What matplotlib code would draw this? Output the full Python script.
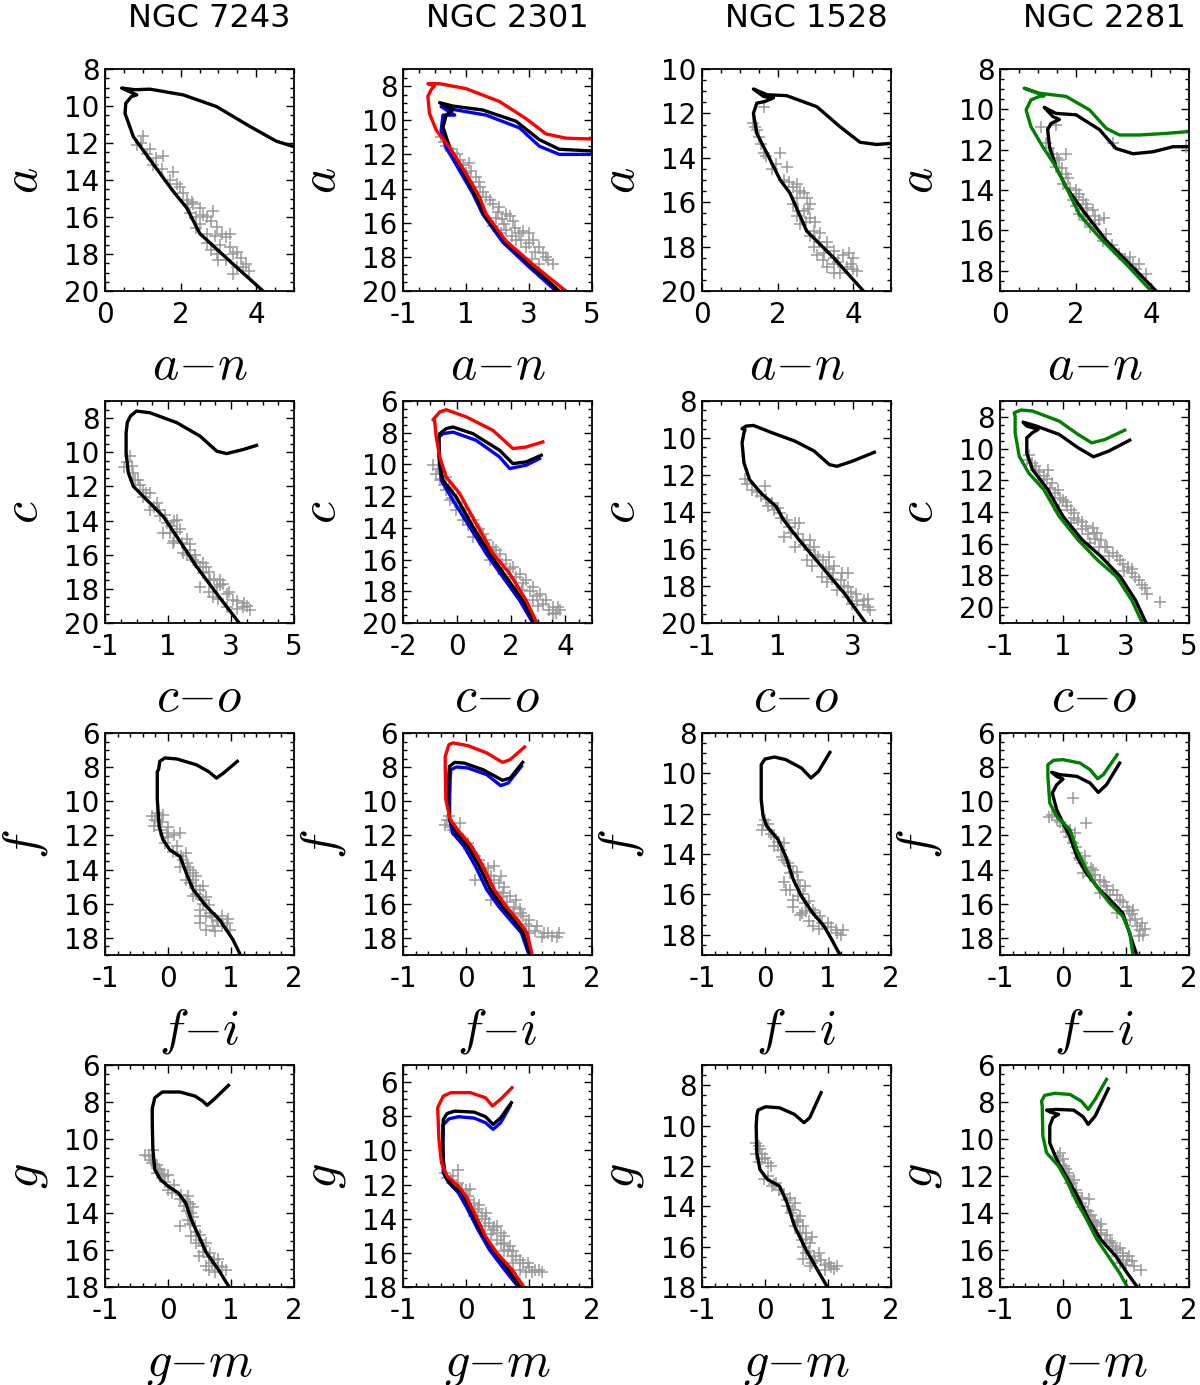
import matplotlib
matplotlib.use('Agg')
import matplotlib.pyplot as plt
from matplotlib.ticker import MultipleLocator

plt.rcParams['font.family'] = 'DejaVu Sans'
plt.rcParams['mathtext.fontset'] = 'cm'
plt.rcParams['axes.unicode_minus'] = False

clusters = ['NGC 7243', 'NGC 2301', 'NGC 1528', 'NGC 2281']
mag_names = ['a', 'c', 'f', 'g']
color_names = ['$a{-}n$', '$c{-}o$', '$f{-}i$', '$g{-}m$']

# ---- NGC 7243 ----
stars_7243_a = [(1.01, 11.6), (0.84, 12.1), (1.1, 12.6), (1.36, 12.8), (1.54, 12.7), (1.28, 13.2),
                (1.8, 13.56), (1.72, 14.0), (1.98, 14.4), (2.16, 15.1), (2.33, 15.3), (2.51, 15.5),
                (2.24, 15.8), (2.69, 16.0), (2.86, 15.7), (2.51, 16.4), (2.95, 16.55), (2.69, 16.9),
                (3.21, 17.1), (3.3, 17.6), (2.95, 18.0), (3.39, 18.0), (3.74, 18.55), (3.39, 19.1),
                (3.65, 18.7), (3.04, 17.5), (2.42, 16.6), (2.07, 14.7),
                (2.3, 15.2), (2.6, 15.9), (2.8, 16.2), (2.4, 16.0), (2.7, 17.4), (2.9, 17.0), (3.1, 16.9),
                (3.5, 17.9), (3.6, 18.2), (3.2, 18.3), (3.0, 18.3), (3.5, 18.7), (3.8, 18.9), (2.8, 17.8),
                (2.2, 15.3), (1.9, 14.2), (1.5, 13.4), (1.2, 12.3), (0.95, 12.0), (3.3, 16.9)]
iso_7243_a = [(4.18, 20), (3.39, 18.55), (2.51, 16.9), (2.16, 15.5), (1.8, 14.6), (1.19, 12.9),
              (0.75, 11.66), (0.53, 10.4), (0.55, 9.85), (0.7, 9.49), (0.84, 9.4), (0.7, 9.27),
              (0.44, 9.03), (0.79, 9.12), (1.19, 9.09), (2.07, 9.4), (2.95, 10.03), (3.83, 11.1),
              (4.53, 11.9), (5.0, 12.2)]
stars_7243_c = [(-0.4, 10.86), (-0.21, 10.24), (-0.1, 11.2), (0.06, 11.6), (0.22, 12.2), (0.43, 12.4),
                (0.43, 13.4), (0.75, 13.76), (0.96, 14.16), (1.06, 14.75), (1.28, 13.96), (1.38, 14.5),
                (1.17, 15.3), (1.59, 15.1), (1.49, 15.9), (1.8, 16.3), (2.02, 16.7), (2.12, 17.1),
                (2.33, 17.5), (2.54, 17.9), (2.86, 18.3), (3.07, 18.67), (3.39, 19.06), (3.6, 19.25),
                (2.02, 17.9), (2.44, 18.47), (2.86, 19.06), (0.64, 12.98), (0.22, 12.6), (0.85, 14.75),
                (1.7, 15.7), (2.12, 16.5), (2.65, 17.5),
                (-0.3, 10.6), (-0.15, 10.8), (-0.05, 11.6), (0.1, 11.9), (0.3, 12.4), (0.55, 13.2),
                (0.7, 13.4), (0.9, 13.7), (1.1, 14.3), (1.2, 14.0), (1.3, 14.7), (1.45, 15.3), (1.7, 15.4),
                (1.85, 16.0), (1.9, 16.4), (2.2, 16.7), (2.3, 17.0), (2.45, 17.4), (2.65, 17.8),
                (2.75, 17.7), (2.95, 18.2), (3.2, 18.7), (3.4, 18.8), (3.5, 19.0), (3.2, 19.2),
                (2.6, 18.6), (2.3, 18.2), (1.2, 15.2), (1.6, 16.0)]
iso_7243_c = [(3.26, 20), (2.54, 18.27), (1.91, 16.7), (1.28, 14.94), (0.85, 13.76), (0.32, 12.78),
              (-0.1, 12.0), (-0.26, 11.2), (-0.33, 10.04), (-0.33, 8.86), (-0.29, 8.24), (-0.19, 7.88),
              (0.0, 7.59), (0.43, 7.69), (1.28, 8.27), (2.02, 9.06), (2.55, 9.94), (2.86, 10.08),
              (3.39, 9.84), (3.81, 9.6)]
stars_7243_f = [(-0.26, 10.88), (-0.18, 10.69), (-0.08, 10.79), (-0.23, 11.47), (-0.13, 11.67),
                (-0.02, 11.86), (0.19, 11.86), (-0.05, 12.45), (0.08, 12.94), (0.24, 13.43), (0.32, 13.82),
                (0.4, 14.2), (0.29, 14.59), (0.45, 14.98), (0.4, 15.57), (0.56, 15.77), (0.51, 16.36),
                (0.66, 16.55), (0.77, 16.94), (0.51, 17.14), (0.72, 17.33), (0.93, 17.14), (0.98, 17.53),
                (0.61, 17.53), (0.29, 13.04), (0.19, 13.82), (0.56, 14.98),
                (-0.2, 11.1), (-0.1, 11.2), (0.0, 11.5), (0.1, 12.0), (0.0, 12.1), (0.15, 12.6),
                (0.2, 13.2), (0.3, 13.6), (0.35, 14.0), (0.45, 14.4), (0.35, 14.8), (0.5, 15.2),
                (0.45, 15.4), (0.6, 15.6), (0.55, 16.0), (0.65, 16.1), (0.7, 16.8), (0.6, 16.7),
                (0.85, 16.7), (0.85, 17.3), (0.75, 17.6), (0.95, 16.9), (0.4, 14.6), (0.5, 16.7),
                (0.8, 17.0)]
iso_7243_f = [(1.15, 19), (1.03, 18.1), (0.82, 16.94), (0.61, 16.16), (0.4, 15.18), (0.29, 14.2),
              (0.19, 13.23), (0.03, 12.84), (-0.08, 12.25), (-0.14, 11.47), (-0.17, 9.9), (-0.17, 8.25),
              (-0.15, 8.15), (-0.13, 7.66), (-0.05, 7.46), (0.14, 7.52), (0.45, 7.86), (0.64, 8.25),
              (0.77, 8.64), (0.88, 8.35), (1.1, 7.66)]
stars_7243_g = [(-0.36, 10.84), (-0.24, 10.57), (-0.27, 11.11), (-0.18, 11.38), (-0.12, 11.65),
                (-0.06, 12.01), (0.0, 11.92), (-0.18, 11.83), (0.07, 12.91), (0.19, 13.27), (0.31, 13.09),
                (0.25, 13.63), (0.37, 13.99), (0.31, 14.36), (0.43, 14.72), (0.37, 15.26), (0.49, 15.44),
                (0.55, 15.8), (0.67, 16.16), (0.73, 16.52), (0.61, 16.88), (0.8, 16.88), (0.92, 17.06),
                (0.49, 16.34), (0.19, 14.72), (0.0, 12.73),
                (-0.3, 10.9), (-0.25, 11.3), (-0.15, 11.6), (-0.1, 11.9), (-0.05, 12.3), (0.1, 12.5),
                (0.2, 13.0), (0.3, 13.4), (0.35, 13.5), (0.4, 13.7), (0.3, 13.9), (0.4, 14.2), (0.35, 14.6),
                (0.45, 15.0), (0.5, 15.2), (0.45, 15.6), (0.6, 15.6), (0.55, 16.1), (0.65, 16.4),
                (0.7, 16.7), (0.65, 17.1), (0.8, 16.5), (0.85, 16.9), (0.75, 17.2)]
iso_7243_g = [(0.97, 18), (0.8, 17.06), (0.61, 16.16), (0.49, 15.26), (0.37, 14.36), (0.28, 13.45),
              (0.16, 12.91), (0.0, 12.55), (-0.12, 12.19), (-0.21, 11.65), (-0.24, 10.57), (-0.25, 9.12),
              (-0.25, 8.36), (-0.21, 7.77), (-0.09, 7.46), (0.19, 7.46), (0.43, 7.68), (0.55, 7.95),
              (0.62, 8.18), (0.73, 7.86), (0.96, 7.1)]

# ---- NGC 2301 ----
stars_2301_a = [(0.21, 11.0), (0.37, 11.5), (0.58, 11.9), (0.8, 12.3), (1.11, 12.5), (1.0, 13.1),
                (1.32, 13.3), (1.22, 13.9), (1.43, 13.9), (1.64, 14.5), (1.85, 14.9), (2.06, 15.1),
                (2.27, 15.5), (1.96, 15.7), (2.48, 15.9), (1.85, 16.2), (2.27, 16.4), (2.69, 16.6),
                (3.01, 16.6), (3.12, 17.0), (3.33, 17.4), (2.9, 17.4), (3.54, 18.0), (3.75, 18.4),
                (3.33, 18.4), (2.59, 17.0),
                (0.3, 11.3), (0.5, 11.7), (0.7, 12.0), (0.9, 12.6), (1.15, 13.0), (1.4, 13.6),
                (1.55, 14.2), (1.75, 14.7), (2.0, 15.4), (2.15, 15.8), (2.4, 15.6), (2.2, 16.1),
                (2.55, 16.3), (2.8, 16.5), (2.45, 16.8), (2.75, 17.0), (3.0, 17.2), (3.2, 17.7),
                (3.45, 17.8), (3.6, 18.2), (3.1, 18.1), (2.1, 16.6)]
iso_2301_a = [(3.96, 20), (3.12, 18.6), (2.27, 17.15), (1.64, 15.7), (1.32, 14.5), (0.9, 12.96),
              (0.48, 11.6), (0.27, 10.4), (0.37, 9.7), (0.58, 9.4), (0.16, 8.97), (0.58, 9.17),
              (1.53, 9.4), (2.59, 10.06), (3.33, 11.14), (3.96, 11.7), (5.0, 11.8)]
iso_2301_a_red = [(4.17, 20), (3.12, 18.44), (2.27, 17.07), (1.64, 15.5), (1.43, 14.5), (1.0, 13.1),
                  (0.48, 11.6), (0.06, 10.6), (-0.16, 9.6), (-0.21, 8.6), (-0.1, 8.2), (0.0, 8.0),
                  (-0.21, 7.86), (0.16, 7.86), (1.0, 8.15), (2.06, 8.9), (2.9, 9.9), (3.54, 10.8),
                  (4.17, 11.05), (5.0, 11.1)]
iso_2301_a_blue = [(3.86, 20), (3.01, 18.6), (2.17, 17.15), (1.53, 15.5), (1.22, 14.3), (0.8, 12.96),
                   (0.37, 11.6), (0.21, 10.6), (0.27, 9.7), (0.64, 9.7), (0.21, 9.2), (0.69, 9.4),
                   (1.64, 9.7), (2.7, 10.45), (3.33, 11.52), (3.96, 12.0), (5.0, 12.0)]
stars_2301_c = [(-0.89, 10.05), (-0.77, 10.58), (-0.64, 11.0), (-0.4, 10.79), (-0.4, 11.63),
                (-0.15, 11.84), (0.1, 12.68), (0.34, 13.1), (0.59, 13.52), (0.71, 13.94), (0.96, 14.36),
                (1.08, 14.78), (1.33, 15.2), (1.58, 15.62), (1.82, 16.04), (2.07, 16.46), (2.32, 16.88),
                (2.56, 17.3), (2.81, 17.73), (3.06, 18.15), (3.3, 18.57), (3.55, 18.99), (3.8, 19.2),
                (3.55, 19.41), (2.19, 17.73), (1.7, 16.88), (1.21, 16.04), (0.59, 14.57), (0.22, 13.52),
                (-0.03, 12.89), (-0.27, 12.26), (2.81, 18.57),
                (-0.7, 10.3), (-0.55, 10.9), (-0.5, 11.3), (-0.3, 11.4), (-0.2, 12.1), (0.0, 12.4),
                (0.2, 12.8), (0.45, 13.3), (0.4, 13.8), (0.8, 14.1), (0.85, 14.6), (1.0, 15.0),
                (1.2, 15.3), (1.45, 15.4), (1.4, 15.8), (1.65, 16.3), (1.95, 16.6), (1.95, 17.1),
                (2.2, 17.1), (2.45, 17.5), (2.4, 17.9), (2.7, 18.0), (2.95, 18.3), (3.2, 18.8),
                (3.0, 18.9), (3.4, 19.2), (3.65, 19.4), (3.75, 19.0)]
iso_2301_c = [(2.87, 20), (2.44, 18.57), (1.82, 17.1), (1.21, 15.62), (0.59, 13.94), (-0.03, 12.05),
              (-0.52, 11.0), (-0.64, 9.95), (-0.67, 8.48), (-0.64, 8.06), (-0.4, 7.74), (-0.15, 7.64),
              (0.59, 8.06), (1.58, 9.11), (2.07, 9.95), (2.56, 9.84), (3.12, 9.42)]
iso_2301_c_red = [(2.96, 20), (2.56, 18.57), (1.95, 16.88), (1.33, 15.62), (0.71, 13.73), (0.1, 11.84),
                  (-0.4, 10.79), (-0.64, 9.53), (-0.77, 8.27), (-0.83, 7.22), (-0.89, 7.18), (-0.64, 6.69),
                  (-0.4, 6.55), (0.34, 7.0), (1.33, 7.85), (2.07, 9.0), (2.56, 8.9), (3.18, 8.58)]
iso_2301_c_blue = [(2.81, 20), (2.32, 18.57), (1.7, 17.1), (1.08, 15.62), (0.47, 13.94), (-0.15, 12.26),
                   (-0.58, 11.0), (-0.67, 9.53), (-0.67, 8.48), (-0.74, 8.37), (-0.52, 8.06), (-0.15, 7.96),
                   (0.71, 8.48), (1.58, 9.53), (1.95, 10.26), (2.56, 10.05), (3.06, 9.63)]
stars_2301_f = [(-0.33, 11.37), (-0.27, 10.88), (-0.21, 11.67), (-0.09, 11.28), (-0.09, 12.06),
                (0.03, 12.45), (0.09, 13.04), (0.21, 13.43), (0.27, 14.02), (0.39, 14.4), (0.52, 14.79),
                (0.58, 15.38), (0.7, 15.57), (0.76, 16.16), (0.88, 16.55), (1.0, 16.94), (1.12, 17.33),
                (1.24, 17.71), (1.36, 17.91), (1.48, 17.71), (1.0, 17.71), (0.39, 15.77), (0.15, 14.59),
                (0.45, 13.81),
                (-0.3, 11.1), (-0.25, 11.5), (-0.15, 11.9), (-0.05, 12.2), (0.05, 12.8), (0.15, 13.2),
                (0.2, 13.7), (0.35, 13.9), (0.3, 14.3), (0.45, 14.6), (0.55, 14.4), (0.6, 15.0),
                (0.45, 15.3), (0.65, 15.9), (0.8, 15.8), (0.85, 16.3), (0.9, 16.7), (0.75, 16.6),
                (0.95, 17.2), (1.1, 17.6), (1.2, 17.95), (1.3, 17.7), (1.45, 17.95), (1.0, 17.3),
                (0.55, 15.6)]
iso_2301_f = [(1.02, 19), (0.91, 17.71), (0.76, 16.94), (0.58, 16.16), (0.39, 15.18), (0.21, 13.81),
              (0.03, 12.64), (-0.15, 11.86), (-0.26, 11.08), (-0.28, 9.9), (-0.27, 8.33), (-0.26, 7.95),
              (-0.18, 7.72), (-0.03, 7.76), (0.27, 8.15), (0.58, 8.77), (0.7, 8.64), (0.9, 7.72)]
iso_2301_f_red = [(1.05, 19), (0.97, 17.71), (0.82, 16.94), (0.64, 16.16), (0.45, 15.18), (0.27, 13.81),
                  (0.09, 12.64), (-0.09, 11.86), (-0.25, 11.08), (-0.32, 9.9), (-0.33, 7.95), (-0.33, 7.37),
                  (-0.27, 6.68), (-0.21, 6.58), (0.03, 6.74), (0.33, 7.17), (0.58, 7.72), (0.7, 7.56),
                  (0.93, 6.82)]
iso_2301_f_blue = [(1.0, 19), (0.88, 17.71), (0.7, 16.94), (0.52, 16.16), (0.33, 15.18), (0.15, 13.81),
                   (-0.03, 12.64), (-0.21, 11.86), (-0.26, 11.08), (-0.26, 9.9), (-0.25, 8.54), (-0.24, 8.15),
                   (-0.15, 7.99), (0.03, 8.05), (0.33, 8.44), (0.55, 9.08), (0.67, 8.93), (0.88, 7.95)]
stars_2301_g = [(-0.33, 11.32), (-0.24, 11.71), (-0.12, 11.12), (-0.12, 11.9), (-0.06, 12.29),
                (0.03, 12.68), (0.13, 13.07), (0.19, 13.46), (0.25, 13.86), (0.37, 14.25), (0.43, 14.64),
                (0.55, 14.83), (0.49, 15.22), (0.61, 15.42), (0.67, 15.81), (0.73, 16.2), (0.86, 16.4),
                (0.98, 16.59), (1.1, 16.98), (1.16, 16.98), (0.86, 16.98), (0.13, 13.86), (0.31, 13.66),
                (0.49, 14.44), (0.07, 12.29),
                (-0.3, 11.6), (-0.2, 11.5), (-0.15, 12.0), (0.0, 12.3), (0.05, 12.9), (0.2, 13.2),
                (0.15, 13.6), (0.3, 14.0), (0.3, 14.4), (0.45, 14.5), (0.4, 14.9), (0.6, 15.0),
                (0.55, 15.5), (0.7, 15.6), (0.75, 15.9), (0.6, 15.9), (0.8, 16.2), (0.9, 16.6),
                (1.0, 16.8), (1.05, 17.1), (0.95, 17.1), (1.2, 17.1), (0.75, 16.6)]
iso_2301_g = [(0.86, 18), (0.67, 16.98), (0.43, 15.81), (0.25, 14.83), (0.07, 13.46), (-0.06, 12.49),
              (-0.21, 12.1), (-0.33, 11.51), (-0.36, 10.54), (-0.37, 9.17), (-0.36, 8.19), (-0.3, 7.84),
              (-0.18, 7.7), (0.13, 7.76), (0.31, 8.03), (0.43, 8.48), (0.55, 8.09), (0.72, 7.21)]
iso_2301_g_red = [(0.92, 18), (0.73, 16.98), (0.49, 16.0), (0.31, 15.03), (0.16, 13.86), (0.0, 12.68),
                  (-0.12, 12.1), (-0.3, 11.51), (-0.39, 10.73), (-0.43, 9.36), (-0.44, 8.38), (-0.45, 7.5),
                  (-0.36, 6.82), (-0.24, 6.62), (0.07, 6.62), (0.31, 6.92), (0.42, 7.4), (0.55, 7.0),
                  (0.73, 6.33)]
iso_2301_g_blue = [(0.83, 18), (0.61, 16.98), (0.37, 15.81), (0.19, 14.64), (0.0, 13.27), (-0.12, 12.49),
                   (-0.27, 11.9), (-0.36, 11.32), (-0.37, 9.95), (-0.36, 8.77), (-0.37, 8.54), (-0.27, 8.15),
                   (-0.12, 8.03), (0.13, 8.11), (0.31, 8.38), (0.43, 8.77), (0.55, 8.38), (0.7, 7.4)]

# ---- NGC 1528 ----
stars_1528_a = [(1.36, 12.45), (1.45, 12.75), (1.5, 13.05), (1.63, 13.8), (1.85, 14.5), (2.07, 13.8),
                (2.24, 14.4), (2.16, 15.0), (2.42, 15.3), (2.6, 15.5), (2.77, 15.8), (2.42, 16.1),
                (2.69, 16.4), (2.86, 16.7), (2.6, 17.0), (2.95, 17.3), (3.13, 17.4), (3.3, 17.8),
                (3.04, 18.4), (3.48, 18.2), (3.74, 18.4), (4.0, 18.5), (3.48, 18.8), (3.83, 18.9),
                (4.1, 19.1), (3.65, 19.2), (1.63, 11.7), (2.86, 16.1), (2.5, 16.6), (3.22, 18.3),
                (1.4, 12.6), (1.55, 13.4), (1.7, 13.9), (1.95, 14.3), (2.3, 15.1), (2.5, 15.2),
                (2.7, 15.6), (2.5, 15.8), (2.8, 16.3), (2.55, 16.4), (2.75, 16.9), (3.0, 16.9),
                (2.85, 17.5), (3.1, 17.8), (3.3, 18.0), (2.95, 18.0), (3.5, 18.5), (3.9, 18.3),
                (3.3, 18.9), (3.6, 18.7), (3.95, 18.8), (3.5, 19.2), (4.0, 19.0), (3.2, 18.6)]
iso_1528_a = [(4.27, 20), (3.48, 18.5), (2.77, 17.3), (2.33, 15.6), (2.07, 15.0), (1.72, 13.8),
              (1.45, 12.9), (1.36, 12.0), (1.45, 11.54), (1.67, 11.46), (1.89, 11.3), (1.63, 11.24),
              (1.36, 10.9), (1.72, 11.16), (2.24, 11.2), (3.04, 11.7), (3.65, 12.6), (4.18, 13.3),
              (4.62, 13.4), (5.0, 13.35)]
stars_1528_c = [(0.14, 12.22), (0.31, 12.8), (0.66, 12.62), (0.56, 13.16), (0.86, 13.52), (1.06, 14.06),
                (1.26, 14.43), (1.57, 14.6), (1.36, 15.15), (1.67, 15.51), (1.87, 16.05), (2.07, 16.42),
                (2.27, 16.96), (2.47, 17.32), (2.67, 17.68), (2.87, 18.05), (3.07, 18.41), (3.28, 18.77),
                (3.38, 19.13), (2.97, 18.95), (2.57, 18.23), (2.17, 17.5), (1.77, 16.6), (1.46, 15.87),
                (1.16, 15.33), (1.87, 15.51), (2.37, 16.42), (2.87, 17.32), (0.91, 13.88),
                (0.2, 12.5), (0.45, 12.9), (0.7, 13.3), (0.75, 13.7), (1.0, 13.8), (1.1, 14.3),
                (1.3, 14.8), (1.45, 14.6), (1.55, 15.2), (1.7, 15.8), (1.95, 15.9), (2.0, 16.3),
                (2.2, 16.6), (2.35, 17.1), (2.5, 16.9), (2.45, 17.6), (2.7, 17.3), (2.75, 18.0),
                (2.95, 18.3), (3.1, 18.8), (3.25, 19.0), (3.4, 18.7), (3.45, 19.3), (2.85, 18.6),
                (2.3, 17.8), (1.9, 16.9)]
iso_1528_c = [(3.33, 20), (2.77, 18.41), (2.17, 16.96), (1.57, 15.51), (1.16, 14.43), (0.96, 13.7),
              (0.56, 12.98), (0.26, 12.25), (0.11, 11.35), (0.06, 10.26), (0.11, 9.72), (0.14, 9.54),
              (0.06, 9.5), (0.16, 9.36), (0.36, 9.32), (0.86, 9.72), (1.46, 10.17), (1.97, 10.71),
              (2.37, 11.44), (2.57, 11.53), (2.97, 11.26), (3.56, 10.77)]
stars_1528_f = [(-0.03, 12.55), (0.0, 12.3), (0.06, 12.8), (0.15, 13.13), (0.21, 13.62), (0.27, 14.12),
                (0.36, 14.45), (0.39, 14.94), (0.52, 15.27), (0.33, 15.77), (0.52, 16.1), (0.64, 16.43),
                (0.76, 16.76), (0.88, 17.09), (1.0, 17.42), (1.12, 17.75), (1.24, 17.75), (0.76, 17.58),
                (0.58, 16.93), (0.45, 16.27), (0.15, 13.62), (0.64, 15.6), (0.3, 13.46),
                (-0.05, 12.8), (0.05, 12.5), (0.1, 13.0), (0.2, 13.4), (0.25, 13.8), (0.3, 14.3),
                (0.4, 14.6), (0.45, 14.9), (0.3, 15.4), (0.4, 15.8), (0.55, 15.6), (0.6, 16.0),
                (0.45, 16.6), (0.7, 16.3), (0.65, 16.8), (0.8, 16.9), (0.9, 17.4), (0.85, 17.7),
                (1.05, 17.6), (1.15, 17.9), (0.7, 17.3), (0.55, 17.0), (1.2, 18.0), (0.5, 14.9)]
iso_1528_f = [(1.19, 19), (1.06, 18.24), (0.94, 17.58), (0.76, 16.93), (0.58, 16.1), (0.45, 15.27),
              (0.33, 14.12), (0.21, 13.29), (0.03, 12.63), (-0.03, 12.13), (-0.06, 11.31), (-0.06, 9.98),
              (-0.06, 9.57), (0.0, 9.29), (0.15, 9.19), (0.33, 9.32), (0.58, 9.74), (0.73, 10.23),
              (0.85, 9.9), (1.03, 8.96)]
stars_1528_g = [(-0.14, 10.85), (-0.08, 11.18), (-0.14, 11.43), (-0.05, 11.68), (0.04, 11.85),
                (-0.02, 12.67), (0.11, 13.0), (0.23, 13.17), (0.35, 13.67), (0.47, 13.83), (0.41, 14.33),
                (0.53, 14.66), (0.47, 14.99), (0.65, 15.32), (0.59, 15.65), (0.71, 15.81), (0.65, 16.31),
                (0.77, 16.48), (0.89, 16.64), (1.02, 16.81), (1.14, 16.98), (0.95, 17.14), (0.71, 16.98),
                (0.17, 12.83),
                (-0.1, 11.0), (-0.05, 11.4), (0.0, 11.6), (-0.1, 11.8), (0.1, 12.0), (0.05, 12.5),
                (0.15, 12.9), (0.3, 13.4), (0.4, 13.6), (0.35, 14.0), (0.45, 14.2), (0.55, 14.5),
                (0.5, 14.8), (0.6, 15.0), (0.55, 15.3), (0.65, 15.6), (0.75, 15.5), (0.6, 16.0),
                (0.7, 16.2), (0.85, 16.3), (0.8, 16.7), (0.95, 16.9), (1.05, 17.0), (0.75, 16.8),
                (0.6, 16.6), (1.1, 17.1)]
iso_1528_g = [(0.99, 18), (0.83, 17.14), (0.65, 16.15), (0.47, 14.99), (0.35, 13.83), (0.23, 13.0),
              (0.04, 12.67), (-0.08, 12.18), (-0.13, 11.35), (-0.14, 10.03), (-0.13, 9.5), (-0.11, 9.23),
              (0.01, 9.07), (0.23, 9.12), (0.47, 9.45), (0.62, 9.86), (0.71, 9.61), (0.89, 8.37)]

# ---- NGC 2281 ----
stars_2281_a = [(1.09, 10.86), (1.48, 10.77), (2.99, 11.69), (4.93, 11.85), (1.22, 11.69), (1.4, 12.19),
                (1.57, 12.52), (1.48, 12.85), (1.75, 13.18), (1.66, 13.68), (2.1, 14.18), (1.92, 14.5),
                (2.28, 14.68), (2.1, 15.18), (2.46, 15.0), (2.63, 15.5), (2.37, 15.84), (2.72, 16.5),
                (3.16, 17.17), (3.52, 17.67), (3.69, 17.67), (3.87, 18.17), (1.75, 12.19), (2.01, 14.35),
                (2.24, 15.5),
                (1.3, 11.9), (1.5, 12.4), (1.65, 12.9), (1.8, 13.4), (1.85, 13.9), (2.0, 14.0),
                (2.2, 14.5), (2.3, 14.9), (2.0, 14.8), (2.5, 15.3), (2.75, 15.4), (2.5, 15.7),
                (2.8, 16.2), (2.95, 16.7), (3.3, 17.4), (3.45, 17.3), (3.6, 17.9), (2.2, 15.3)]
iso_2281_a = [(4.13, 19), (3.52, 17.83), (2.81, 16.5), (2.19, 15.0), (1.75, 13.85), (1.48, 12.85),
              (1.31, 11.85), (1.26, 11.0), (1.35, 10.7), (1.57, 10.5), (1.4, 10.36), (1.17, 9.9),
              (1.48, 10.2), (2.01, 10.27), (2.63, 11.0), (3.07, 11.94), (3.52, 12.2), (4.05, 12.1),
              (4.58, 11.85), (5.0, 11.85)]
iso_2281_a_green = [(4.0, 19), (3.34, 17.67), (2.63, 16.34), (2.1, 15.2), (1.75, 13.85), (1.48, 12.85),
                    (1.13, 11.85), (0.82, 10.86), (0.69, 10.03), (0.82, 9.53), (1.04, 9.36), (1.17, 9.33),
                    (0.64, 8.95), (1.04, 9.2), (1.75, 9.36), (2.37, 10.03), (2.81, 10.94), (3.16, 11.27),
                    (3.69, 11.27), (4.4, 11.19), (5.0, 11.1)]
stars_2281_c = [(-0.09, 10.38), (0.03, 10.9), (0.15, 11.32), (0.39, 11.75), (0.64, 12.17), (0.76, 12.8),
                (1.0, 13.22), (1.12, 13.65), (1.36, 14.07), (1.48, 14.49), (1.73, 14.91), (1.97, 15.34),
                (2.21, 15.76), (2.33, 16.18), (2.58, 16.6), (2.82, 17.03), (3.06, 17.45), (3.18, 17.87),
                (3.42, 18.29), (3.67, 19.14), (4.09, 19.66), (0.88, 13.86), (1.24, 14.7), (1.85, 15.97),
                (2.09, 15.34), (0.27, 11.96), (0.52, 11.32),
                (-0.15, 10.7), (0.1, 11.1), (0.25, 11.5), (0.5, 11.9), (0.6, 12.5), (0.85, 12.6),
                (0.9, 13.1), (1.1, 13.4), (1.25, 13.9), (1.35, 14.4), (1.6, 14.6), (1.6, 15.1),
                (1.8, 15.4), (2.0, 15.7), (2.15, 16.2), (2.4, 16.2), (2.45, 16.8), (2.7, 16.8),
                (2.9, 17.3), (2.95, 17.7), (3.2, 17.6), (3.3, 18.1), (3.5, 18.6), (3.6, 18.8),
                (1.95, 15.0)]
iso_2281_c = [(3.64, 21), (3.3, 19.56), (2.82, 18.08), (2.21, 16.81), (1.61, 15.76), (1.0, 14.28),
              (0.52, 12.59), (0.03, 11.32), (-0.15, 10.27), (-0.15, 9.32), (0.03, 9.0), (0.21, 8.79),
              (-0.15, 8.58), (-0.27, 8.33), (0.15, 8.58), (0.88, 9.11), (1.48, 9.95), (1.97, 10.52),
              (2.45, 10.16), (3.12, 9.47)]
iso_2281_c_green = [(3.52, 21), (3.18, 19.56), (2.7, 18.08), (2.09, 17.02), (1.48, 15.76), (0.88, 14.28),
                    (0.39, 12.59), (-0.09, 11.54), (-0.39, 10.48), (-0.52, 9.0), (-0.52, 7.95),
                    (-0.55, 7.74), (-0.33, 7.57), (0.03, 7.63), (0.88, 8.27), (1.48, 9.11), (1.91, 9.64),
                    (2.33, 9.43), (2.96, 8.84)]
stars_2281_f = [(0.16, 9.81), (0.37, 11.28), (-0.18, 10.79), (-0.1, 11.08), (0.0, 11.47), (0.11, 11.66),
                (0.19, 11.86), (0.16, 12.45), (0.22, 13.04), (0.27, 13.43), (0.37, 13.82), (0.48, 14.02),
                (0.43, 14.4), (0.59, 14.59), (0.69, 14.98), (0.8, 15.18), (0.59, 15.38), (0.9, 15.77),
                (1.01, 16.16), (1.11, 16.35), (1.06, 16.94), (1.17, 17.33), (1.27, 17.81), (1.22, 17.53),
                (0.32, 14.2), (0.85, 16.55),
                (-0.22, 10.9), (-0.05, 11.2), (0.05, 11.8), (0.1, 12.1), (0.2, 12.7), (0.25, 13.3),
                (0.3, 13.6), (0.35, 13.2), (0.45, 13.9), (0.5, 14.3), (0.65, 14.7), (0.7, 15.2),
                (0.75, 15.5), (0.85, 15.5), (0.95, 15.9), (1.1, 16.6), (1.15, 16.9), (1.05, 16.4),
                (1.25, 17.1), (1.3, 17.5), (1.2, 17.9), (0.5, 14.6)]
iso_2281_f = [(1.17, 19), (1.09, 18.1), (0.95, 16.55), (0.8, 15.96), (0.58, 15.18), (0.37, 14.2),
              (0.22, 13.23), (0.11, 12.06), (0.0, 11.28), (-0.1, 10.49), (-0.17, 9.52), (-0.1, 9.03),
              (0.0, 8.7), (-0.1, 8.54), (-0.18, 8.3), (-0.05, 8.44), (0.22, 8.54), (0.43, 8.93),
              (0.56, 9.48), (0.69, 9.03), (0.9, 7.76)]
iso_2281_f_green = [(1.11, 19), (1.06, 17.71), (0.95, 16.74), (0.74, 15.96), (0.53, 14.98), (0.37, 14.0),
                    (0.22, 12.83), (0.11, 11.66), (-0.1, 10.88), (-0.21, 10.1), (-0.24, 8.54),
                    (-0.24, 7.86), (-0.15, 7.6), (0.0, 7.56), (0.27, 7.76), (0.43, 8.15), (0.55, 8.68),
                    (0.64, 8.44), (0.86, 7.27)]
stars_2281_g = [(-0.04, 10.75), (-0.07, 11.2), (0.02, 11.47), (0.08, 11.83), (0.11, 12.37), (0.2, 12.73),
                (0.23, 13.09), (0.29, 13.45), (0.35, 13.82), (0.41, 14.18), (0.48, 14.36), (0.54, 14.72),
                (0.6, 15.08), (0.66, 15.44), (0.78, 15.62), (0.84, 15.98), (0.96, 16.16), (1.02, 16.52),
                (0.9, 16.7), (1.12, 16.88), (1.24, 17.06), (0.41, 13.27), (0.17, 12.19),
                (-0.08, 10.9), (0.0, 11.1), (0.05, 11.6), (0.1, 12.0), (0.15, 12.4), (0.2, 12.9),
                (0.3, 13.2), (0.3, 13.7), (0.4, 13.9), (0.45, 14.1), (0.5, 14.5), (0.6, 14.6),
                (0.6, 14.9), (0.7, 15.2), (0.75, 15.5), (0.8, 15.8), (0.9, 15.9), (0.95, 16.3),
                (1.05, 16.3), (1.1, 16.6), (0.85, 16.3), (1.0, 16.8)]
iso_2281_g = [(1.18, 18), (1.02, 17.25), (0.84, 16.34), (0.6, 15.44), (0.41, 14.36), (0.23, 13.09),
              (0.05, 12.01), (-0.1, 11.11), (-0.21, 10.21), (-0.21, 9.3), (-0.16, 8.85), (-0.07, 8.67),
              (-0.2, 8.55), (-0.26, 8.44), (-0.1, 8.4), (0.17, 8.44), (0.32, 8.8), (0.4, 9.21),
              (0.51, 8.76), (0.72, 7.28)]
iso_2281_g_green = [(1.02, 18), (0.9, 17.25), (0.72, 16.34), (0.54, 15.44), (0.35, 14.18), (0.2, 13.27),
                    (0.05, 12.19), (-0.07, 11.47), (-0.26, 10.75), (-0.32, 9.84), (-0.33, 8.22),
                    (-0.34, 7.95), (-0.29, 7.64), (-0.13, 7.53), (0.11, 7.59), (0.29, 7.95), (0.4, 8.4),
                    (0.51, 7.86), (0.69, 6.78)]

# axis ranges per row (cols: 7243, 2301, 1528, 2281)
xlims = [[(0, 5), (-1, 5), (0, 5), (0, 5)],
         [(-1, 5), (-2, 5), (-1, 4), (-1, 5)],
         [(-1, 2)] * 4,
         [(-1, 2)] * 4]
xticks = [[[0, 2, 4], [-1, 1, 3, 5], [0, 2, 4], [0, 2, 4]],
          [[-1, 1, 3, 5], [-2, 0, 2, 4], [-1, 1, 3], [-1, 1, 3, 5]],
          [[-1, 0, 1, 2]] * 4,
          [[-1, 0, 1, 2]] * 4]
ylims = [[(20, 8), (20, 7), (20, 10), (19, 8)],
         [(20, 7), (20, 6), (20, 8), (21, 7)],
         [(19, 6), (19, 6), (19, 8), (19, 6)],
         [(18, 6), (18, 5), (18, 7), (18, 6)]]
yticks = [[range(8, 21, 2), range(8, 21, 2), range(10, 21, 2), range(8, 19, 2)],
          [range(8, 21, 2), range(6, 21, 2), range(8, 21, 2), range(8, 21, 2)],
          [range(6, 19, 2), range(6, 19, 2), range(8, 19, 2), range(6, 19, 2)],
          [range(6, 19, 2), range(6, 19, 2), range(8, 19, 2), range(6, 19, 2)]]

stars = [[stars_7243_a, stars_2301_a, stars_1528_a, stars_2281_a],
         [stars_7243_c, stars_2301_c, stars_1528_c, stars_2281_c],
         [stars_7243_f, stars_2301_f, stars_1528_f, stars_2281_f],
         [stars_7243_g, stars_2301_g, stars_1528_g, stars_2281_g]]

# isochrones per panel, in drawing order
isos = [[[(iso_7243_a, 'k')],
         [(iso_2301_a_blue, 'b'), (iso_2301_a, 'k'), (iso_2301_a_red, 'r')],
         [(iso_1528_a, 'k')],
         [(iso_2281_a, 'k'), (iso_2281_a_green, 'g')]],
        [[(iso_7243_c, 'k')],
         [(iso_2301_c_blue, 'b'), (iso_2301_c, 'k'), (iso_2301_c_red, 'r')],
         [(iso_1528_c, 'k')],
         [(iso_2281_c, 'k'), (iso_2281_c_green, 'g')]],
        [[(iso_7243_f, 'k')],
         [(iso_2301_f_blue, 'b'), (iso_2301_f, 'k'), (iso_2301_f_red, 'r')],
         [(iso_1528_f, 'k')],
         [(iso_2281_f, 'k'), (iso_2281_f_green, 'g')]],
        [[(iso_7243_g, 'k')],
         [(iso_2301_g_blue, 'b'), (iso_2301_g, 'k'), (iso_2301_g_red, 'r')],
         [(iso_1528_g, 'k')],
         [(iso_2281_g, 'k'), (iso_2281_g_green, 'g')]]]

line_colors = {'k': 'black', 'b': '#0000ff', 'r': '#ff0000', 'g': '#007f00'}

W, H = 1200, 1385
fig = plt.figure(figsize=(W / 100, H / 100), dpi=100)

lefts = [105, 403, 702, 1000]
tops = [69, 401, 733, 1065]
aw, ah = 189, 222

for col, name in enumerate(clusters):
    fig.text((lefts[col] + aw / 2 + 10) / W, 1 - 27 / H, name, ha='center', va='baseline', fontsize=23)

for row in range(4):
    for col in range(4):
        ax = fig.add_axes([lefts[col] / W, 1 - (tops[row] + ah) / H, aw / W, ah / H])

        pts = stars[row][col]
        ax.plot([p[0] for p in pts], [p[1] for p in pts], '+', color='#999999', ms=8, mew=1.1)

        for iso, c in isos[row][col]:
            ax.plot([p[0] for p in iso], [p[1] for p in iso], '-', color=line_colors[c], lw=2.4,
                    solid_joinstyle='round')

        ax.set_xlim(*xlims[row][col])
        ax.set_ylim(*ylims[row][col])
        ax.set_xticks(xticks[row][col])
        ax.set_yticks(list(yticks[row][col]))
        ax.xaxis.set_minor_locator(MultipleLocator(0.5 if row < 2 else 0.2))
        ax.yaxis.set_minor_locator(MultipleLocator(0.5))
        ax.tick_params(which='both', direction='in', top=True, right=True, width=1)
        ax.tick_params(which='major', length=5.5, labelsize=20)
        ax.tick_params(which='minor', length=3)
        ax.tick_params(axis='x', pad=7)
        ax.tick_params(axis='y', pad=4)
        for sp in ax.spines.values():
            sp.set_linewidth(1.3)

        ax.text(0.5, -88 / ah, color_names[row], transform=ax.transAxes,
                ha='center', va='baseline', fontsize=36)
        ax.text(-68 / aw, 0.5, '$%s$' % mag_names[row], transform=ax.transAxes, rotation=90,
                rotation_mode='anchor', ha='center', va='baseline', fontsize=36)

fig.savefig('out.png', dpi=100)
